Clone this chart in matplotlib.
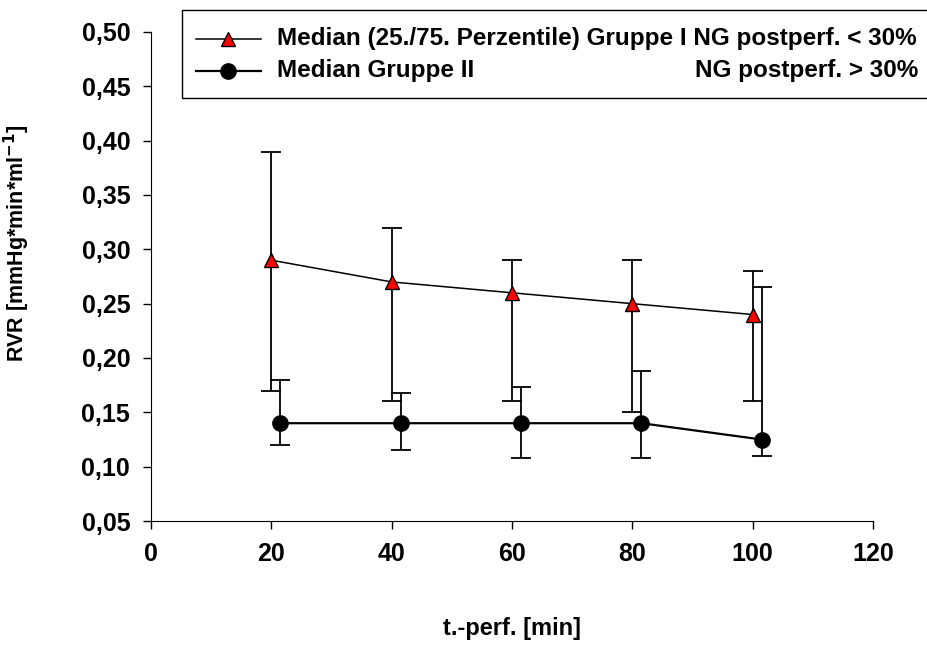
import numpy as np
import matplotlib.pyplot as plt
from matplotlib.lines import Line2D
from matplotlib.patches import Rectangle
from matplotlib.ticker import FuncFormatter

plt.rcParams['font.family'] = ['Liberation Sans', 'DejaVu Sans']
plt.rcParams['font.weight'] = 'bold'
plt.rcParams['mathtext.default'] = 'bf'

# group I (NG postperf. < 30%)
x_g1 = [20, 40, 60, 80, 100]
med_g1 = [0.29, 0.27, 0.26, 0.25, 0.24]
p25_g1 = [0.17, 0.16, 0.16, 0.15, 0.16]
p75_g1 = [0.39, 0.32, 0.29, 0.29, 0.28]

# group II (NG postperf. > 30%), drawn slightly shifted right
x_g2 = [21.5, 41.5, 61.5, 81.5, 101.5]
med_g2 = [0.14, 0.14, 0.14, 0.14, 0.125]
p25_g2 = [0.12, 0.115, 0.108, 0.108, 0.11]
p75_g2 = [0.18, 0.168, 0.173, 0.188, 0.265]

x_ticks = [0, 20, 40, 60, 80, 100, 120]
y_ticks = [0.05, 0.10, 0.15, 0.20, 0.25, 0.30, 0.35, 0.40, 0.45, 0.50]

fig = plt.figure(figsize=(9.28, 6.66), dpi=100)
ax = fig.add_axes([0.1627, 0.2177, 0.778, 0.7343])

err1 = [np.array(med_g1) - np.array(p25_g1), np.array(p75_g1) - np.array(med_g1)]
err2 = [np.array(med_g2) - np.array(p25_g2), np.array(p75_g2) - np.array(med_g2)]

ax.errorbar(x_g1, med_g1, yerr=err1, fmt='none', ecolor='black', elinewidth=1.3,
            capsize=7, capthick=1.3, zorder=2)
ax.plot(x_g1, med_g1, color='black', lw=1.1, zorder=3)
ax.plot(x_g1, med_g1, ls='none', marker='^', ms=10, mfc='red', mec='black', mew=1.0, zorder=4)

ax.errorbar(x_g2, med_g2, yerr=err2, fmt='none', ecolor='black', elinewidth=1.3,
            capsize=7, capthick=1.3, zorder=2)
ax.plot(x_g2, med_g2, color='black', lw=1.6, marker='o', ms=11, mfc='black', mec='black', zorder=4)

ax.set_xlim(0, 120)
ax.set_ylim(0.05, 0.50)
ax.set_xticks(x_ticks)
ax.set_yticks(y_ticks)
ax.yaxis.set_major_formatter(FuncFormatter(lambda v, p: f"{v:.2f}".replace('.', ',')))
ax.tick_params(direction='out', length=6, width=1, labelsize=18, pad=9)
for lab in ax.get_xticklabels() + ax.get_yticklabels():
    lab.set_fontweight('bold')
ax.spines['top'].set_visible(False)
ax.spines['right'].set_visible(False)

ax.set_xlabel('t.-perf. [min]', fontsize=17, fontweight='bold')
ax.xaxis.set_label_coords(0.5, -0.196)
ax.set_ylabel(r'RVR [mmHg*min*ml$^{-1}$]', fontsize=15.5, fontweight='bold')
ax.yaxis.set_label_coords(-0.165, 0.568)

# legend box drawn by hand (second label split into two aligned parts)
fig.patches.append(Rectangle((182 / 928, 1 - 98 / 666), 760 / 928, 88 / 666,
                             transform=fig.transFigure, fill=False, ec='black', lw=1))
fig.lines.append(Line2D([196 / 928, 261 / 928], [1 - 39 / 666] * 2, transform=fig.transFigure,
                        color='black', lw=1.1))
fig.lines.append(Line2D([228 / 928], [1 - 39 / 666], transform=fig.transFigure, ls='none',
                        marker='^', ms=10, mfc='red', mec='black'))
fig.lines.append(Line2D([196 / 928, 261 / 928], [1 - 71 / 666] * 2, transform=fig.transFigure,
                        color='black', lw=1.6))
fig.lines.append(Line2D([228 / 928], [1 - 71 / 666], transform=fig.transFigure, ls='none',
                        marker='o', ms=11, mfc='black', mec='black'))
fig.text(277 / 928, 1 - 39 / 666, 'Median (25./75. Perzentile) Gruppe I NG postperf. < 30%',
         fontsize=17.5, fontweight='bold', va='center', ha='left')
fig.text(277 / 928, 1 - 71 / 666, 'Median Gruppe II',
         fontsize=17.5, fontweight='bold', va='center', ha='left')
fig.text(918 / 928, 1 - 71 / 666, 'NG postperf. > 30%',
         fontsize=17.5, fontweight='bold', va='center', ha='right')

fig.savefig('out.png', dpi=100)
